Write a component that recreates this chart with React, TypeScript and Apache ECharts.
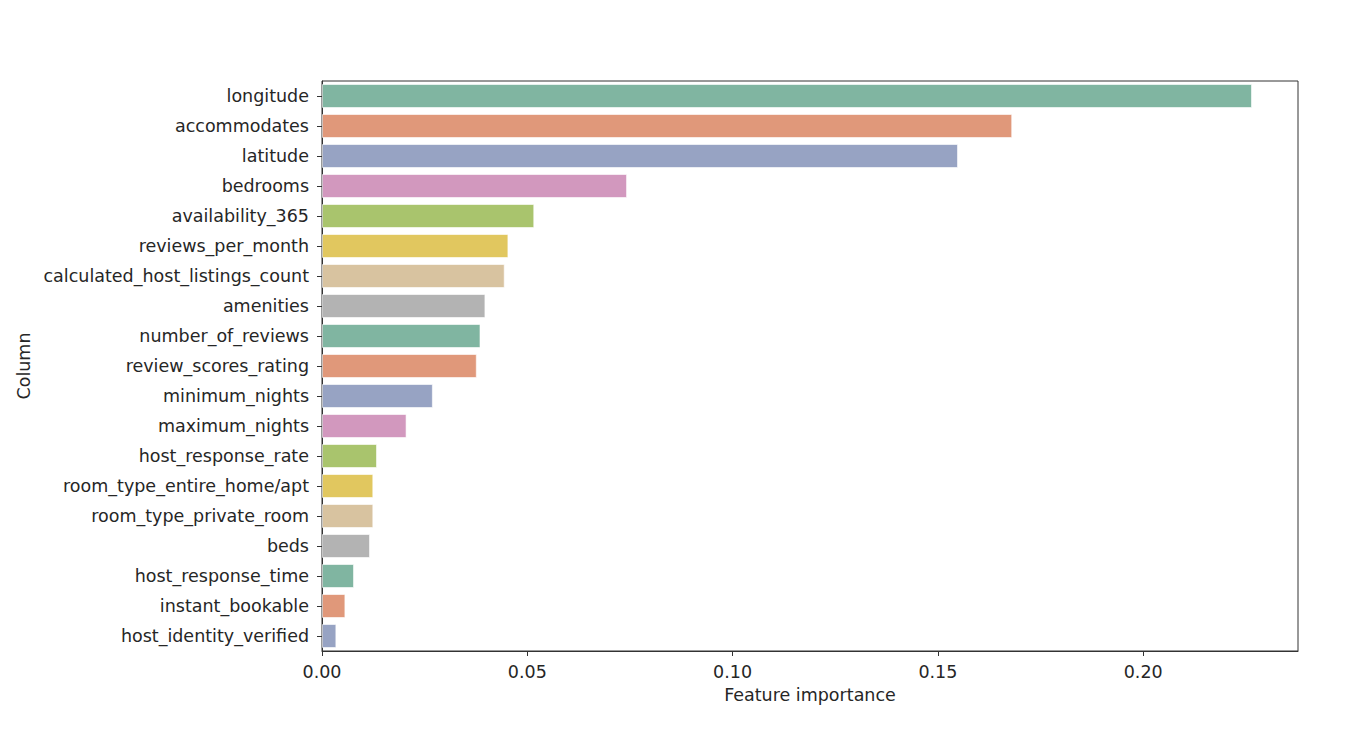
import React, { useEffect, useRef } from "react";
import * as echarts from "echarts";

const categories = [
  "longitude",
  "accommodates",
  "latitude",
  "bedrooms",
  "availability_365",
  "reviews_per_month",
  "calculated_host_listings_count",
  "amenities",
  "number_of_reviews",
  "review_scores_rating",
  "minimum_nights",
  "maximum_nights",
  "host_response_rate",
  "room_type_entire_home/apt",
  "room_type_private_room",
  "beds",
  "host_response_time",
  "instant_bookable",
  "host_identity_verified",
];

const importance = [
  0.2265, 0.1681, 0.1549, 0.0743, 0.0517, 0.0454, 0.0445, 0.0398, 0.0386,
  0.0377, 0.0270, 0.0206, 0.0134, 0.0125, 0.0125, 0.0117, 0.0078, 0.0057,
  0.0035,
];

const palette = [
  "#80b5a1",
  "#e0987a",
  "#97a3c3",
  "#d298be",
  "#a9c46d",
  "#e1c75f",
  "#d8c3a0",
  "#b3b3b3",
];

const xTicks = [0, 0.05, 0.1, 0.15, 0.2];

export default function App() {
  const ref = useRef<HTMLDivElement>(null);

  useEffect(() => {
    if (!ref.current) return;
    const chart = echarts.init(ref.current, undefined, { renderer: "svg" });
    const font = "DejaVu Sans";
    const fs = 17.5;
    chart.setOption({
      animation: false,
      backgroundColor: "#ffffff",
      textStyle: { fontFamily: font },
      grid: {
        left: 322,
        right: 70,
        top: 81,
        bottom: 95,
        show: true,
        borderColor: "#333333",
        borderWidth: 1,
        containLabel: false,
      },
      xAxis: {
        type: "value",
        min: 0,
        max: 0.2377,
        interval: 0.05,
        name: "Feature importance",
        nameLocation: "middle",
        nameGap: 34,
        nameTextStyle: { fontSize: fs, color: "#262626", fontFamily: font },
        splitLine: { show: false },
        axisLine: { show: true, lineStyle: { color: "#333", width: 1 } },
        axisTick: {
          show: true,
          length: 5,
          customValues: xTicks,
          lineStyle: { color: "#333" },
        },
        axisLabel: {
          customValues: xTicks,
          fontSize: fs,
          color: "#262626",
          fontFamily: font,
          margin: 12,
          formatter: (v: number) => v.toFixed(2),
        },
      },
      yAxis: {
        type: "category",
        inverse: true,
        data: categories,
        name: "Column",
        nameLocation: "middle",
        nameGap: 286,
        nameRotate: 90,
        nameTextStyle: { fontSize: fs, color: "#262626", fontFamily: font },
        axisLine: { show: true, lineStyle: { color: "#333", width: 1 } },
        axisTick: {
          show: true,
          alignWithLabel: true,
          length: 5,
          lineStyle: { color: "#333" },
        },
        axisLabel: {
          fontSize: fs,
          color: "#262626",
          fontFamily: font,
          margin: 13,
        },
        splitLine: { show: false },
      },
      series: [
        {
          type: "bar",
          barCategoryGap: "20%",
          data: importance.map((v, i) => ({
            value: v,
            itemStyle: {
              color: palette[i % palette.length],
              borderColor: "rgba(255,255,255,0.6)",
              borderWidth: 1,
            },
          })),
        },
      ],
    });
    return () => chart.dispose();
  }, []);

  return (
    <div
      ref={ref}
      style={{
        position: "fixed",
        left: 0,
        top: 0,
        width: 1368,
        height: 746,
        background: "#fff",
      }}
    />
  );
}
